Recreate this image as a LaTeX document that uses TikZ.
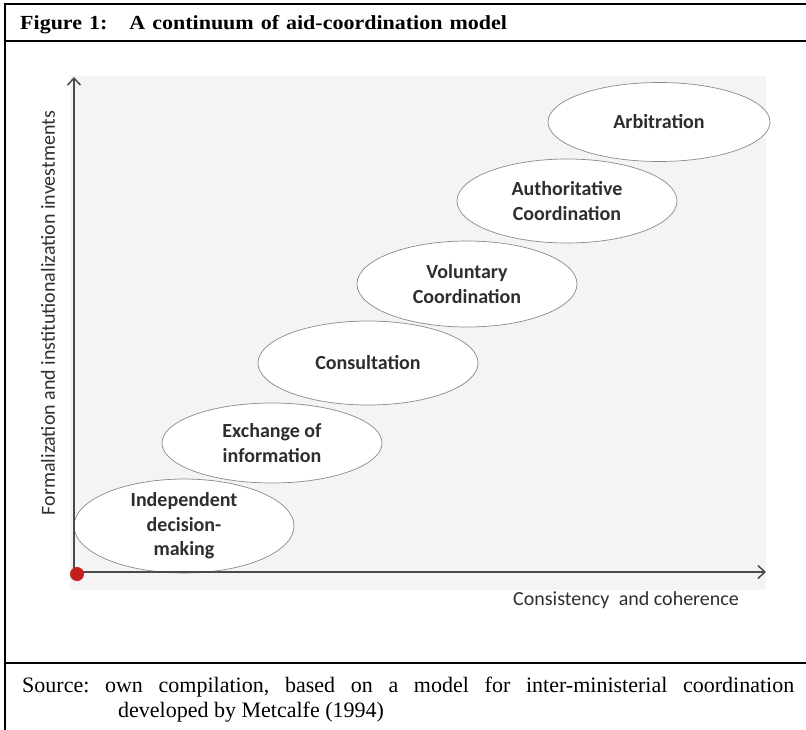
\documentclass[tikz,border=0pt]{standalone}
\usepackage{fontspec}
\setmainfont{Liberation Serif}
\newfontfamily\carlitofont{Carlito}
\newfontfamily\widetimes[FakeStretch=1.1]{Liberation Serif}
\usetikzlibrary{shapes.geometric,arrows.meta}
\definecolor{bggray}{HTML}{F4F4F4}
\definecolor{axisgray}{HTML}{4A4A4A}
\definecolor{edgegray}{HTML}{8A8A8A}
\definecolor{txtgray}{HTML}{2E2E2E}
\definecolor{dotred}{HTML}{C41E1E}
\tikzset{
  frameline/.style={line width=2pt, black},
  axisline/.style={line width=1.8pt, axisgray, -{Straight Barb[length=7pt,width=13pt,line width=1.5pt]}},
  stage/.style={ellipse, draw=edgegray, line width=0.7pt, fill=white, inner sep=0pt,
    minimum width=220pt, align=center, text=txtgray, font=\carlitofont\bfseries\fontsize{20}{24.5}\selectfont},
  axislabel/.style={text=txtgray, font=\carlitofont\fontsize{20}{22}\selectfont, inner sep=0pt},
}
\begin{document}
\frenchspacing
\begin{tikzpicture}[x=1pt,y=-1pt]
\useasboundingbox (0,0) rectangle (806,729);
% frame
\draw[frameline] (5,4) -- (810,4);
\draw[frameline] (5,41) -- (810,41);
\draw[frameline] (5,663) -- (810,663);
\draw[frameline] (5,3) -- (5,733);
% title
\node[anchor=base west, inner sep=0pt, font=\widetimes\bfseries\fontsize{20}{24}\selectfont] (title) at (20,29)
  {\spaceskip=7pt plus 1pt Figure 1:\hspace{22pt}A continuum of aid-coordination model};
% plot background
\fill[bggray] (70,76) rectangle (766,590);
% ellipses
\node[stage, minimum height=80pt] (s1) at (184,526) {Independent\\decision-\\making};
\node[stage, minimum height=80pt] (s2) at (272,443) {Exchange of\\information};
\node[stage, minimum height=84pt] (s3) at (368,363) {Consultation};
\node[stage, minimum height=86pt] (s4) at (467,284) {Voluntary\\Coordination};
\node[stage, minimum height=84pt] (s5) at (567,201) {Authoritative\\Coordination};
\node[stage, minimum width=222pt, minimum height=79pt] (s6) at (659,122) {Arbitration};
% axes
\coordinate (o) at (74,572);
\coordinate (ytip) at (74,77);
\coordinate (xtip) at (766,572);
\draw[axisline] (o) -- (ytip);
\draw[axisline] (o) -- (xtip);
\fill[dotred] (77,574) circle (7pt);
\node[axislabel, rotate=90] (ylab) at (48,313) {Formalization and institutionalization investments};
\node[axislabel] (xlab) at (626,600) {Consistency\hspace{5pt} and coherence};
% source
\node[anchor=base west, inner sep=0pt, font=\fontsize{22}{26}\selectfont] (src1) at (22,692)
  {\makebox[772pt][s]{Source: own compilation, based on a model for inter-ministerial coordination}};
\node[anchor=base west, inner sep=0pt, font=\fontsize{22}{26}\selectfont] (src2) at (118,717)
  {developed by Metcalfe (1994)};
\end{tikzpicture}
\end{document}
